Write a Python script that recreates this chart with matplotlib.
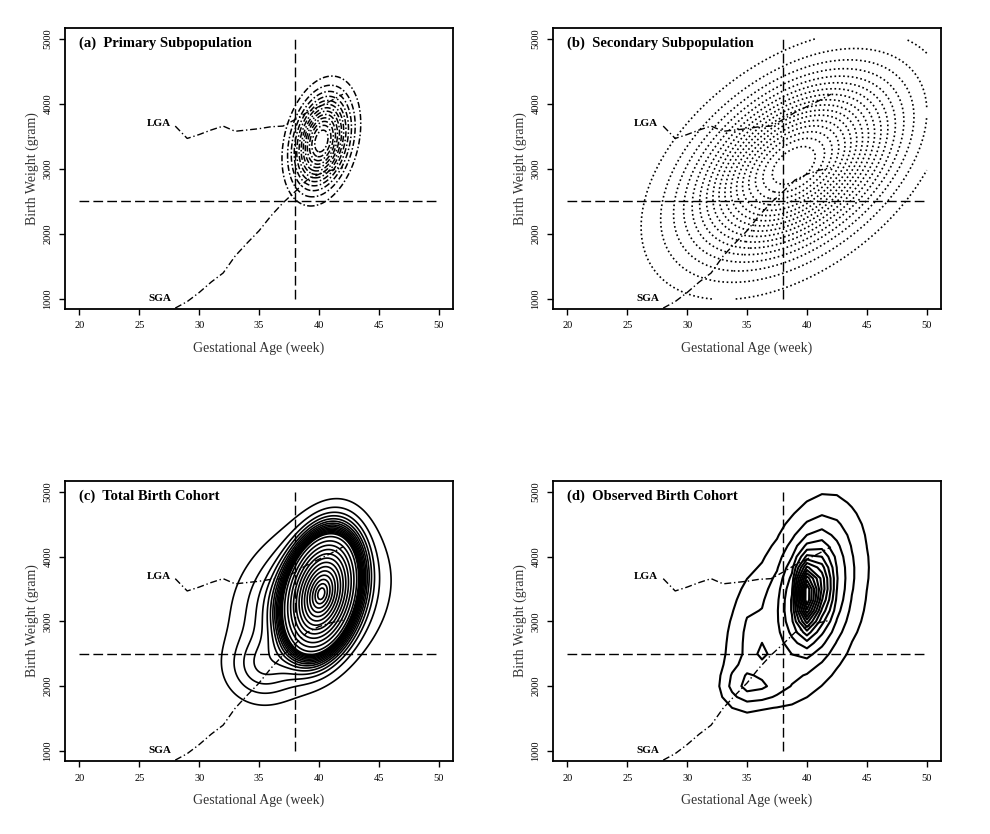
import numpy as np
import matplotlib.pyplot as plt

plt.rcParams['font.family'] = ['Liberation Serif', 'DejaVu Serif']

# percentile curves (gestational week -> birth weight in gram)
weeks = [28, 29, 30, 31, 32, 33, 34, 35, 36, 37, 38, 39, 40, 41, 42]
lga = [3660, 3470, 3530, 3600, 3660, 3580, 3600, 3620, 3650, 3660, 3760, 3870, 3960, 4050, 4150]
sga = [860, 960, 1100, 1260, 1400, 1660, 1860, 2050, 2280, 2480, 2650, 2830, 2920, 2980, 3020]

# bivariate normal components: weight, mean GA, mean BW, sd GA, sd BW, correlation
primary = [(1.0, 40.2, 3430, 1.43, 435, 0.27)]
secondary = [(1.0, 38.9, 3055, 5.3, 858, 0.46)]
total = [(0.85, 40.2, 3430, 1.43, 435, 0.27),
         (0.132, 39.3, 3330, 3.0, 570, 0.22),
         (0.018, 35.3, 2300, 1.8, 320, 0.0)]
observed = [(0.12, 40.3, 3450, 0.6, 330, 0.20),
            (0.36, 40.4, 3450, 1.9, 720, 0.30),
            (0.39, 40.5, 3350, 3.5, 1000, 0.30),
            (0.08, 34.8, 2650, 1.2, 700, 0.30),
            (0.05, 35.8, 2000, 1.8, 200, 0.00)]

# contour levels as fractions of the peak density
levels_a = np.arange(1, 14) / 14
levels_b = np.arange(1, 18) / 18
levels_c = np.concatenate([[0.0045, 0.011, 0.018],
                           np.linspace(0.025, 0.11, 12),
                           np.exp(-np.linspace(2.0, 0.2, 13)**2 / 2)])
levels_d = np.arange(1, 15) / 15

titles = ['(a)  Primary Subpopulation', '(b)  Secondary Subpopulation',
          '(c)  Total Birth Cohort', '(d)  Observed Birth Cohort']


def density(comps, gx, gy):
    z = np.zeros_like(gx)
    for w, mx, my, sx, sy, r in comps:
        u = (gx - mx) / sx
        v = (gy - my) / sy
        q = (u**2 - 2 * r * u * v + v**2) / (1 - r**2)
        z += w * np.exp(-q / 2) / (2 * np.pi * sx * sy * np.sqrt(1 - r**2))
    return z


fig = plt.figure(figsize=(9.9, 8.34), dpi=100)
boxes = [[0.0657, 0.6295, 0.392, 0.337], [0.5586, 0.6295, 0.392, 0.337],
         [0.0657, 0.0875, 0.392, 0.336], [0.5586, 0.0875, 0.392, 0.336]]
axs = [fig.add_axes(b) for b in boxes]

fine_x, fine_y = np.meshgrid(np.linspace(20, 50, 241), np.linspace(1000, 5000, 241))
coarse_x, coarse_y = np.meshgrid(np.linspace(20, 50, 25), np.linspace(1000, 5000, 25))

# panel (a)
z = density(primary, fine_x, fine_y)
axs[0].contour(fine_x, fine_y, z, levels=z.max() * levels_a,
               colors='k', linewidths=1.1, linestyles=[(0, (4, 1.5, 1, 1.5))])
# panel (b)
z = density(secondary, fine_x, fine_y)
axs[1].contour(fine_x, fine_y, z, levels=z.max() * levels_b,
               colors='k', linewidths=1.2, linestyles=[(0, (1, 1.6))])
# panel (c)
z = density(total, fine_x, fine_y)
axs[2].contour(fine_x, fine_y, z, levels=z.max() * np.sort(levels_c), colors='k', linewidths=1.2)
# panel (d)
z = density(observed, coarse_x, coarse_y)
axs[3].contour(coarse_x, coarse_y, z, levels=z.max() * levels_d,
               colors='k', linewidths=1.5)

for ax, t in zip(axs, titles):
    ax.plot([20, 50], [2500, 2500], color='k', lw=1, linestyle=(0, (7, 3)))
    ax.plot([38, 38], [1000, 5000], color='k', lw=1, linestyle=(0, (7, 3)))
    ax.plot(weeks, lga, color='k', lw=1, linestyle=(0, (5, 2, 1, 2)))
    ax.plot(weeks, sga, color='k', lw=1, linestyle=(0, (5, 2, 1, 2)))
    ax.text(27.6, 3700, 'LGA', ha='right', va='center', fontsize=8, fontweight='bold')
    ax.text(27.7, 1010, 'SGA', ha='right', va='center', fontsize=8, fontweight='bold')
    ax.text(0.035, 0.968, t, transform=ax.transAxes, ha='left', va='top',
            fontsize=10.5, fontweight='bold')
    ax.set_xlim(18.8, 51.2)
    ax.set_ylim(846, 5170)
    ax.set_xticks([20, 25, 30, 35, 40, 45, 50])
    ax.set_yticks([1000, 2000, 3000, 4000, 5000])
    ax.tick_params(direction='out', length=4, width=1, labelsize=7.5, pad=5)
    for lab in ax.get_yticklabels():
        lab.set_rotation(90)
        lab.set_va('center')
    for s in ax.spines.values():
        s.set_linewidth(1.3)
    ax.set_xlabel('Gestational Age (week)', fontsize=10, color='#333333', labelpad=8)
    ax.set_ylabel('Birth Weight (gram)', fontsize=10, color='#333333', labelpad=3)

fig.savefig('out.png', dpi=100)
